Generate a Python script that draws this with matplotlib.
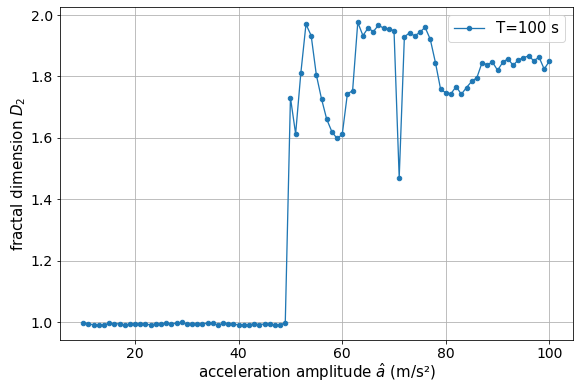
import numpy as np
import matplotlib
matplotlib.use("Agg")
import matplotlib.pyplot as plt

accel = list(range(10, 101))
d2_low = [0.997, 0.995, 0.991, 0.990, 0.991, 0.996, 0.994, 0.995, 0.990, 0.994,
          0.994, 0.994, 0.994, 0.991, 0.994, 0.994, 0.996, 0.994, 0.997, 0.999,
          0.993, 0.993, 0.994, 0.994, 0.997, 0.996, 0.990, 0.996, 0.995, 0.994,
          0.991, 0.992, 0.992, 0.994, 0.992, 0.994, 0.993, 0.991, 0.991, 0.998]
d2_high = [1.731, 1.613, 1.810, 1.970, 1.933, 1.805, 1.727, 1.661, 1.620, 1.598,
           1.611, 1.744, 1.753, 1.976, 1.933, 1.958, 1.946, 1.967, 1.957, 1.955,
           1.949, 1.470, 1.929, 1.942, 1.932, 1.944, 1.960, 1.921, 1.845, 1.758,
           1.747, 1.744, 1.767, 1.742, 1.764, 1.784, 1.796, 1.845, 1.838, 1.847,
           1.820, 1.846, 1.858, 1.836, 1.854, 1.861, 1.867, 1.851, 1.863, 1.824,
           1.850]
d2 = d2_low + d2_high

DPI = 72
fig = plt.figure(figsize=(577 / DPI, 382 / DPI), dpi=DPI)
ax = fig.add_axes([0.104, 0.109, 0.8885, 0.872])
ax.plot(accel, d2, marker='o', markersize=4.5, linewidth=1.3, color='#1f77b4', label='T=100 s')
ax.grid(True, color='#b0b0b0', linewidth=0.8)
ax.set_xticks([20, 40, 60, 80, 100])
ax.set_yticks([1.0, 1.2, 1.4, 1.6, 1.8, 2.0])
ax.tick_params(labelsize=14)
ax.set_xlabel(r'acceleration amplitude $\hat{a}$ (m/s²)', fontsize=15, labelpad=0)
ax.set_ylabel(r'fractal dimension $D_2$', fontsize=15, labelpad=3)
ax.legend(loc='upper right', fontsize=15)
fig.savefig('out.png', dpi=DPI)
